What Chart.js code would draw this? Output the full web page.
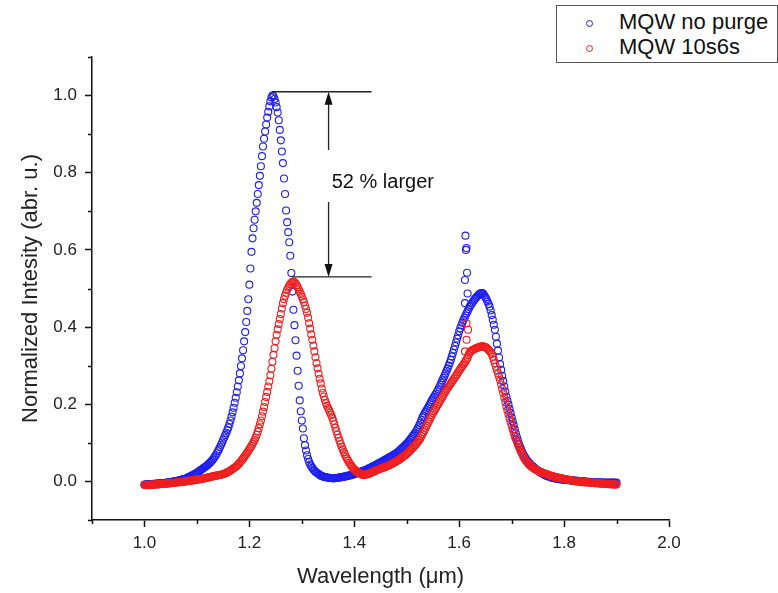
<!DOCTYPE html>
<html>
<head>
<meta charset="utf-8">
<title>MQW PL spectra</title>
<script src="https://cdn.jsdelivr.net/npm/chart.js@4.4.1/dist/chart.umd.min.js"></script>
<style>
  body { margin: 0; background: #fff; }
  #wrap { position: relative; width: 778px; height: 593px; }
  #legend {
    position: absolute; left: 556px; top: 5px; width: 220px; padding: 3px 0;
    border: 1px solid #555; background: #fff;
    font-family: "Liberation Sans", Arial, sans-serif; font-size: 22px; color: #111;
  }
  .row { height: 25px; line-height: 25px; white-space: nowrap; }
  .mark {
    display: inline-block; width: 5px; height: 5px; border: 1px solid; border-radius: 50%;
    margin: 0 26px 0 29px; vertical-align: middle;
  }
</style>
</head>
<body>
<div id="wrap">
  <canvas id="myChart" width="778" height="593"></canvas>
  <div id="legend"></div>
</div>
<script>
// wavelength grid (um), 2 nm steps
const wavelength = [
  1.000,1.002,1.004,1.006,1.008,1.010,1.012,1.014,1.016,1.018,
  1.020,1.022,1.024,1.026,1.028,1.030,1.032,1.034,1.036,1.038,
  1.040,1.042,1.044,1.046,1.048,1.050,1.052,1.054,1.056,1.058,
  1.060,1.062,1.064,1.066,1.068,1.070,1.072,1.074,1.076,1.078,
  1.080,1.082,1.084,1.086,1.088,1.090,1.092,1.094,1.096,1.098,
  1.100,1.102,1.104,1.106,1.108,1.110,1.112,1.114,1.116,1.118,
  1.120,1.122,1.124,1.126,1.128,1.130,1.132,1.134,1.136,1.138,
  1.140,1.142,1.144,1.146,1.148,1.150,1.152,1.154,1.156,1.158,
  1.160,1.162,1.164,1.166,1.168,1.170,1.172,1.174,1.176,1.178,
  1.180,1.182,1.184,1.186,1.188,1.190,1.192,1.194,1.196,1.198,
  1.200,1.202,1.204,1.206,1.208,1.210,1.212,1.214,1.216,1.218,
  1.220,1.222,1.224,1.226,1.228,1.230,1.232,1.234,1.236,1.238,
  1.240,1.242,1.244,1.246,1.248,1.250,1.252,1.254,1.256,1.258,
  1.260,1.262,1.264,1.266,1.268,1.270,1.272,1.274,1.276,1.278,
  1.280,1.282,1.284,1.286,1.288,1.290,1.292,1.294,1.296,1.298,
  1.300,1.302,1.304,1.306,1.308,1.310,1.312,1.314,1.316,1.318,
  1.320,1.322,1.324,1.326,1.328,1.330,1.332,1.334,1.336,1.338,
  1.340,1.342,1.344,1.346,1.348,1.350,1.352,1.354,1.356,1.358,
  1.360,1.362,1.364,1.366,1.368,1.370,1.372,1.374,1.376,1.378,
  1.380,1.382,1.384,1.386,1.388,1.390,1.392,1.394,1.396,1.398,
  1.400,1.402,1.404,1.406,1.408,1.410,1.412,1.414,1.416,1.418,
  1.420,1.422,1.424,1.426,1.428,1.430,1.432,1.434,1.436,1.438,
  1.440,1.442,1.444,1.446,1.448,1.450,1.452,1.454,1.456,1.458,
  1.460,1.462,1.464,1.466,1.468,1.470,1.472,1.474,1.476,1.478,
  1.480,1.482,1.484,1.486,1.488,1.490,1.492,1.494,1.496,1.498,
  1.500,1.502,1.504,1.506,1.508,1.510,1.512,1.514,1.516,1.518,
  1.520,1.522,1.524,1.526,1.528,1.530,1.532,1.534,1.536,1.538,
  1.540,1.542,1.544,1.546,1.548,1.550,1.552,1.554,1.556,1.558,
  1.560,1.562,1.564,1.566,1.568,1.570,1.572,1.574,1.576,1.578,
  1.580,1.582,1.584,1.586,1.588,1.590,1.592,1.594,1.596,1.598,
  1.600,1.602,1.604,1.606,1.608,1.610,1.612,1.614,1.616,1.618,
  1.620,1.622,1.624,1.626,1.628,1.630,1.632,1.634,1.636,1.638,
  1.640,1.642,1.644,1.646,1.648,1.650,1.652,1.654,1.656,1.658,
  1.660,1.662,1.664,1.666,1.668,1.670,1.672,1.674,1.676,1.678,
  1.680,1.682,1.684,1.686,1.688,1.690,1.692,1.694,1.696,1.698,
  1.700,1.702,1.704,1.706,1.708,1.710,1.712,1.714,1.716,1.718,
  1.720,1.722,1.724,1.726,1.728,1.730,1.732,1.734,1.736,1.738,
  1.740,1.742,1.744,1.746,1.748,1.750,1.752,1.754,1.756,1.758,
  1.760,1.762,1.764,1.766,1.768,1.770,1.772,1.774,1.776,1.778,
  1.780,1.782,1.784,1.786,1.788,1.790,1.792,1.794,1.796,1.798,
  1.800,1.802,1.804,1.806,1.808,1.810,1.812,1.814,1.816,1.818,
  1.820,1.822,1.824,1.826,1.828,1.830,1.832,1.834,1.836,1.838,
  1.840,1.842,1.844,1.846,1.848,1.850,1.852,1.854,1.856,1.858,
  1.860,1.862,1.864,1.866,1.868,1.870,1.872,1.874,1.876,1.878,
  1.880,1.882,1.884,1.886,1.888,1.890,1.892,1.894,1.896,1.898,
  1.900
];

const noPurge = [
  -0.008,-0.008,-0.008,-0.007,-0.008,-0.007,-0.007,-0.007,-0.006,-0.007,
  -0.006,-0.006,-0.005,-0.006,-0.005,-0.005,-0.005,-0.004,-0.004,-0.004,
  -0.004,-0.003,-0.003,-0.002,-0.002,-0.002,-0.001,-0.001,0.000,0.000,
  0.000,0.001,0.002,0.003,0.003,0.004,0.005,0.006,0.006,0.007,
  0.008,0.009,0.011,0.012,0.013,0.015,0.016,0.018,0.019,0.021,
  0.022,0.024,0.026,0.028,0.030,0.032,0.034,0.036,0.038,0.040,
  0.042,0.045,0.047,0.050,0.053,0.056,0.060,0.064,0.068,0.073,
  0.078,0.083,0.089,0.095,0.101,0.108,0.114,0.120,0.126,0.133,
  0.140,0.149,0.158,0.168,0.179,0.191,0.204,0.217,0.231,0.246,
  0.262,0.280,0.299,0.319,0.340,0.363,0.387,0.413,0.442,0.472,
  0.510,0.552,0.595,0.630,0.656,0.678,0.700,0.722,0.745,0.768,
  0.792,0.817,0.843,0.868,0.888,0.907,0.925,0.943,0.958,0.972,
  0.985,0.995,1.000,0.998,0.991,0.982,0.970,0.956,0.936,0.911,
  0.884,0.855,0.825,0.785,0.745,0.702,0.672,0.646,0.620,0.585,
  0.540,0.492,0.445,0.405,0.366,0.326,0.287,0.248,0.210,0.182,
  0.158,0.137,0.112,0.094,0.080,0.068,0.058,0.050,0.044,0.039,
  0.035,0.031,0.028,0.025,0.023,0.021,0.019,0.017,0.015,0.014,
  0.013,0.012,0.011,0.011,0.010,0.010,0.009,0.009,0.009,0.008,
  0.009,0.008,0.009,0.009,0.009,0.010,0.010,0.011,0.011,0.012,
  0.012,0.013,0.013,0.014,0.015,0.015,0.016,0.016,0.017,0.018,
  0.019,0.020,0.021,0.022,0.023,0.024,0.025,0.026,0.027,0.028,
  0.029,0.030,0.031,0.032,0.034,0.035,0.036,0.038,0.039,0.040,
  0.042,0.043,0.045,0.046,0.048,0.049,0.051,0.052,0.054,0.055,
  0.057,0.058,0.060,0.062,0.063,0.065,0.066,0.068,0.070,0.071,
  0.073,0.075,0.077,0.080,0.082,0.085,0.087,0.090,0.092,0.095,
  0.098,0.101,0.104,0.108,0.111,0.115,0.118,0.122,0.126,0.130,
  0.135,0.140,0.146,0.152,0.159,0.166,0.171,0.176,0.181,0.185,
  0.190,0.195,0.200,0.205,0.210,0.215,0.219,0.224,0.228,0.233,
  0.238,0.244,0.250,0.256,0.262,0.268,0.274,0.280,0.287,0.293,
  0.300,0.307,0.315,0.324,0.333,0.342,0.351,0.360,0.370,0.379,
  0.389,0.397,0.404,0.411,0.418,0.424,0.430,0.436,0.441,0.447,
  0.453,0.457,0.461,0.465,0.469,0.473,0.476,0.479,0.482,0.485,
  0.487,0.488,0.488,0.486,0.482,0.477,0.472,0.466,0.460,0.453,
  0.443,0.431,0.419,0.406,0.393,0.375,0.357,0.339,0.321,0.304,
  0.289,0.274,0.260,0.246,0.233,0.220,0.209,0.199,0.188,0.177,
  0.166,0.156,0.146,0.135,0.125,0.115,0.106,0.097,0.090,0.083,
  0.077,0.071,0.066,0.061,0.057,0.053,0.050,0.047,0.044,0.041,
  0.039,0.037,0.034,0.032,0.030,0.028,0.026,0.024,0.022,0.021,
  0.019,0.018,0.016,0.015,0.014,0.013,0.012,0.011,0.010,0.009,
  0.009,0.008,0.008,0.007,0.007,0.006,0.006,0.005,0.005,0.005,
  0.004,0.004,0.004,0.003,0.004,0.003,0.003,0.002,0.003,0.002,
  0.002,0.001,0.002,0.001,0.001,0.000,0.001,0.000,0.000,-0.001,
  0.000,-0.001,-0.001,-0.001,-0.002,-0.001,-0.002,-0.002,-0.002,-0.002,
  -0.003,-0.002,-0.003,-0.003,-0.002,-0.003,-0.003,-0.003,-0.004,-0.003,
  -0.003,-0.004,-0.003,-0.004,-0.003,-0.003,-0.004,-0.003,-0.003,-0.004,
  -0.003
];

const purge10s6s = [
  -0.009,-0.010,-0.009,-0.009,-0.010,-0.009,-0.008,-0.009,-0.008,-0.009,
  -0.008,-0.008,-0.007,-0.008,-0.007,-0.007,-0.006,-0.007,-0.006,-0.006,
  -0.006,-0.005,-0.006,-0.005,-0.004,-0.005,-0.004,-0.004,-0.003,-0.004,
  -0.003,-0.003,-0.002,-0.002,-0.002,-0.001,-0.001,-0.001,0.000,0.000,
  0.000,0.001,0.001,0.002,0.002,0.002,0.003,0.003,0.003,0.004,
  0.004,0.005,0.005,0.006,0.006,0.007,0.007,0.008,0.008,0.009,
  0.010,0.010,0.011,0.012,0.012,0.013,0.014,0.014,0.015,0.015,
  0.016,0.016,0.017,0.017,0.018,0.019,0.020,0.021,0.022,0.024,
  0.025,0.027,0.028,0.030,0.032,0.034,0.036,0.038,0.040,0.043,
  0.046,0.049,0.052,0.056,0.059,0.063,0.067,0.071,0.075,0.079,
  0.084,0.088,0.092,0.097,0.102,0.108,0.114,0.121,0.129,0.138,
  0.148,0.158,0.169,0.181,0.193,0.206,0.219,0.232,0.246,0.259,
  0.275,0.292,0.310,0.328,0.345,0.363,0.380,0.394,0.408,0.421,
  0.434,0.448,0.462,0.472,0.481,0.489,0.496,0.502,0.507,0.511,
  0.515,0.517,0.518,0.516,0.513,0.509,0.504,0.498,0.492,0.486,
  0.479,0.472,0.465,0.456,0.447,0.437,0.424,0.410,0.396,0.381,
  0.367,0.352,0.337,0.322,0.307,0.293,0.279,0.266,0.254,0.241,
  0.229,0.220,0.211,0.203,0.196,0.190,0.184,0.178,0.172,0.165,
  0.157,0.148,0.139,0.130,0.121,0.113,0.105,0.097,0.090,0.083,
  0.076,0.070,0.064,0.059,0.054,0.049,0.045,0.041,0.037,0.034,
  0.031,0.029,0.026,0.024,0.022,0.021,0.019,0.018,0.017,0.017,
  0.017,0.018,0.018,0.019,0.020,0.021,0.022,0.024,0.025,0.026,
  0.027,0.029,0.030,0.031,0.032,0.033,0.034,0.035,0.036,0.037,
  0.038,0.039,0.040,0.042,0.043,0.044,0.046,0.047,0.049,0.050,
  0.052,0.054,0.055,0.057,0.059,0.061,0.063,0.065,0.067,0.069,
  0.072,0.074,0.077,0.079,0.082,0.085,0.088,0.091,0.094,0.097,
  0.100,0.104,0.108,0.112,0.117,0.122,0.128,0.133,0.139,0.144,
  0.150,0.155,0.161,0.166,0.172,0.177,0.182,0.186,0.191,0.196,
  0.200,0.205,0.210,0.215,0.219,0.224,0.229,0.234,0.238,0.242,
  0.246,0.250,0.254,0.258,0.262,0.266,0.270,0.274,0.278,0.283,
  0.287,0.291,0.295,0.299,0.303,0.307,0.311,0.316,0.320,0.328,
  0.334,0.337,0.339,0.341,0.342,0.344,0.345,0.346,0.347,0.348,
  0.349,0.350,0.350,0.350,0.349,0.348,0.346,0.344,0.341,0.338,
  0.334,0.330,0.323,0.315,0.306,0.297,0.288,0.280,0.271,0.262,
  0.251,0.240,0.229,0.217,0.206,0.194,0.184,0.174,0.164,0.154,
  0.144,0.135,0.126,0.117,0.110,0.103,0.096,0.089,0.083,0.077,
  0.071,0.065,0.060,0.056,0.052,0.049,0.046,0.043,0.040,0.038,
  0.036,0.034,0.032,0.031,0.029,0.028,0.026,0.025,0.024,0.023,
  0.022,0.021,0.020,0.019,0.018,0.017,0.016,0.015,0.014,0.013,
  0.013,0.012,0.011,0.011,0.010,0.009,0.009,0.008,0.008,0.007,
  0.006,0.006,0.005,0.005,0.004,0.004,0.003,0.003,0.002,0.002,
  0.001,0.001,0.000,0.000,-0.001,0.000,-0.001,-0.002,-0.001,-0.002,
  -0.002,-0.003,-0.002,-0.003,-0.003,-0.003,-0.004,-0.003,-0.004,-0.004,
  -0.005,-0.004,-0.005,-0.005,-0.005,-0.006,-0.005,-0.006,-0.006,-0.006,
  -0.007,-0.006,-0.007,-0.007,-0.007,-0.008,-0.007,-0.008,-0.008,-0.008,
  -0.008
];

// the glitch near 1.61 um (grating change), extra points
const spikeWlNoPurge = [1.611, 1.612, 1.613, 1.614, 1.615, 1.616, 1.611];
const spikeNoPurge   = [0.522, 0.637, 0.600, 0.605, 0.541, 0.487, 0.462];
const spikeWl10s6s   = [1.614, 1.617, 1.614, 1.611];
const spike10s6s     = [0.410, 0.393, 0.367, 0.337];

const seriesLabels = ['MQW no purge', 'MQW 10s6s'];
const seriesColors = ['rgb(30,30,240)', 'rgb(240,30,30)'];

const note = {
  text: '52 % larger',
  topY: 1.01, bottomY: 0.53,
  topFromX: 1.243, bottomFromX: 1.281, toX: 1.433,
  arrowX: 1.351, gapTop: 0.859, gapBottom: 0.724,
  textX: 1.357, textY: 0.774
};

const FONT = '"Liberation Sans", Arial, sans-serif';

document.addEventListener('DOMContentLoaded', function() {
    const ctx = document.getElementById('myChart').getContext('2d');

    function toPoints(xs, ys) {
        const pts = [];
        for (let i = 0; i < Math.min(xs.length, ys.length); i++) {
            pts.push({ x: xs[i], y: ys[i] });
        }
        return pts;
    }

    function isMajor(v) {
        return Math.round(v * 10) % 2 === 0;
    }

    const minorTicks = {
        id: 'minorTicks',
        afterDraw(chart) {
            const c = chart.ctx;
            const x = chart.scales.x;
            const y = chart.scales.y;
            c.save();
            c.strokeStyle = '#111';
            c.lineWidth = 1.5;
            c.beginPath();
            x.ticks.forEach(t => {
                if (isMajor(t.value)) return;
                const px = Math.round(x.getPixelForValue(t.value)) + 0.5;
                c.moveTo(px, x.top);
                c.lineTo(px, x.top + 4);
            });
            y.ticks.forEach(t => {
                if (isMajor(t.value)) return;
                const py = Math.round(y.getPixelForValue(t.value)) + 0.5;
                c.moveTo(y.right, py);
                c.lineTo(y.right - 4, py);
            });
            c.stroke();
            c.restore();
        }
    };

    function arrowHead(c, px, py, dir) {
        c.beginPath();
        c.moveTo(px, py);
        c.lineTo(px - 4, py + dir * 13);
        c.lineTo(px + 4, py + dir * 13);
        c.closePath();
        c.fill();
    }

    const noteLines = {
        id: 'noteLines',
        afterDatasetsDraw(chart) {
            const c = chart.ctx;
            const x = chart.scales.x;
            const y = chart.scales.y;
            const yTop = y.getPixelForValue(note.topY);
            const yBot = y.getPixelForValue(note.bottomY);
            const xa = x.getPixelForValue(note.arrowX);
            c.save();
            c.strokeStyle = '#222';
            c.fillStyle = '#111';
            c.lineWidth = 1.3;
            c.beginPath();
            c.moveTo(x.getPixelForValue(note.topFromX), yTop);
            c.lineTo(x.getPixelForValue(note.toX), yTop);
            c.moveTo(x.getPixelForValue(note.bottomFromX), yBot);
            c.lineTo(x.getPixelForValue(note.toX), yBot);
            c.moveTo(xa, yTop + 10);
            c.lineTo(xa, y.getPixelForValue(note.gapTop));
            c.moveTo(xa, y.getPixelForValue(note.gapBottom));
            c.lineTo(xa, yBot - 10);
            c.stroke();
            arrowHead(c, xa, yTop, 1);
            arrowHead(c, xa, yBot, -1);
            c.font = '20px ' + FONT;
            c.textAlign = 'left';
            c.textBaseline = 'middle';
            c.fillStyle = '#111';
            c.fillText(note.text, x.getPixelForValue(note.textX), y.getPixelForValue(note.textY));
            c.restore();
        }
    };

    const datasets = [
        {
            label: seriesLabels[0],
            data: toPoints(wavelength, noPurge).concat(toPoints(spikeWlNoPurge, spikeNoPurge)),
            borderColor: seriesColors[0],
            backgroundColor: 'rgba(0,0,0,0)',
            pointRadius: 3.5,
            pointBorderWidth: 1.1,
            order: 2
        },
        {
            label: seriesLabels[1],
            data: toPoints(wavelength, purge10s6s).concat(toPoints(spikeWl10s6s, spike10s6s)),
            borderColor: seriesColors[1],
            backgroundColor: 'rgba(0,0,0,0)',
            pointRadius: 3.5,
            pointBorderWidth: 1.1,
            order: 1
        }
    ];

    const axisCommon = {
        type: 'linear',
        border: { display: true, color: '#111', width: 1.5 },
        grid: {
            drawOnChartArea: false,
            drawTicks: true,
            tickLength: 7,
            tickWidth: 1.5,
            tickColor: c => (c.tick && isMajor(c.tick.value)) ? '#111' : 'rgba(0,0,0,0)'
        }
    };

    new Chart(ctx, {
        type: 'scatter',
        data: { datasets: datasets },
        options: {
            responsive: false,
            devicePixelRatio: 1,
            animation: false,
            layout: { padding: { top: 57, right: 109, left: 0, bottom: 0 } },
            plugins: {
                legend: { display: false },
                tooltip: { enabled: false }
            },
            scales: {
                x: Object.assign({}, axisCommon, {
                    min: 0.9,
                    max: 2.0,
                    afterFit: s => { s.height = 73; },
                    ticks: {
                        stepSize: 0.1,
                        autoSkip: false,
                        maxRotation: 0,
                        padding: 6,
                        color: '#222',
                        font: { family: FONT, size: 17 },
                        callback: v => isMajor(v) ? v.toFixed(1) : ''
                    },
                    title: {
                        display: true,
                        text: 'Wavelength (\u03bcm)',
                        color: '#222',
                        font: { family: FONT, size: 22 },
                        padding: { top: 0, bottom: 3 }
                    }
                }),
                y: Object.assign({}, axisCommon, {
                    min: -0.1,
                    max: 1.1,
                    afterFit: s => { s.width = 92; },
                    ticks: {
                        stepSize: 0.1,
                        autoSkip: false,
                        padding: 8,
                        color: '#222',
                        font: { family: FONT, size: 17 },
                        callback: v => isMajor(v) ? v.toFixed(1) : ''
                    },
                    title: {
                        display: true,
                        text: 'Normalized Intesity (abr. u.)',
                        color: '#222',
                        font: { family: FONT, size: 22 },
                        padding: { top: 18, bottom: 0 }
                    }
                })
            }
        },
        plugins: [minorTicks, noteLines]
    });

    function buildLegend(list) {
        const box = document.getElementById('legend');
        box.innerHTML = '';
        list.forEach(ds => {
            const row = document.createElement('div');
            row.className = 'row';
            const mark = document.createElement('span');
            mark.className = 'mark';
            mark.style.borderColor = ds.borderColor;
            row.appendChild(mark);
            row.appendChild(document.createTextNode(ds.label));
            box.appendChild(row);
        });
    }

    buildLegend(datasets);
});
</script>
</body>
</html>
